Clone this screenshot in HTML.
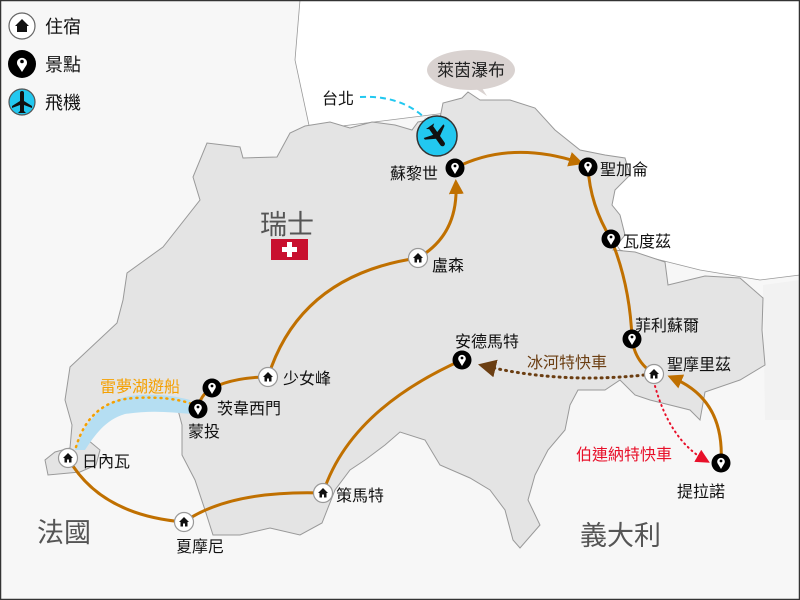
<!DOCTYPE html>
<html><head><meta charset="utf-8"><style>
html,body{margin:0;padding:0;background:#f7f7f7}
svg{display:block}
text{font-family:"Liberation Sans","Noto Sans CJK TC",sans-serif}
</style></head><body>
<svg width="800" height="600" viewBox="0 0 800 600" xmlns="http://www.w3.org/2000/svg">
<defs>
<g id="home"><circle r="9.5" fill="#fff" stroke="#999" stroke-width="1.2"/><path d="M0,-5 L-5,0 L-3.5,0 L-3.5,4.5 L3.5,4.5 L3.5,0 L5,0 Z" fill="#111"/><rect x="-1" y="1.5" width="2" height="3" fill="#fff"/></g>
<g id="pin"><circle r="9.5" fill="#000"/><path d="M0,6 L-3.3,0.5 A3.8,3.8 0 1 1 3.3,0.5 Z" fill="#fff"/><circle cy="-2" r="1.4" fill="#000"/></g>
<marker id="ao" viewBox="0 0 10 10" refX="6" refY="5" markerWidth="5" markerHeight="5" orient="auto"><path d="M0,0 L10,5 L0,10 Z" fill="#c07000"/></marker>
<marker id="ab" viewBox="0 0 10 10" refX="6" refY="5" markerWidth="6" markerHeight="6" orient="auto"><path d="M0,0 L10,5 L0,10 Z" fill="#6b3e12"/></marker>
<marker id="ar" viewBox="0 0 10 10" refX="6" refY="5" markerWidth="7" markerHeight="7" orient="auto"><path d="M0,0 L10,5 L0,10 Z" fill="#e8102a"/></marker>
</defs>
<rect width="800" height="600" fill="#f7f7f7"/>
<path d="M300,0 L800,0 L800,275 L760,280 L700,270 L620,250 L560,160 L470,110 L310,130 L295,60 Z" fill="#fff" stroke="#999" stroke-width="0.8"/>
<path d="M763,285 L800,280 L800,420 L765,420 Z" fill="#f2f2f2"/>
<path d="M305,126 L330,122 L350,128 L372,122 L395,125 L412,130 L418,122 L440,118 L443,103 L462,98 L468,92 L480,100 L510,100 L535,108 L555,130 L580,150 L605,155 L625,158 L630,175 L615,190 L612,205 L620,215 L625,235 L613,250 L635,252 L665,262 L668,285 L705,276 L740,278 L763,298 L762,330 L765,365 L740,380 L705,392 L700,420 L690,410 L670,405 L650,400 L635,395 L620,380 L605,390 L578,390 L570,405 L565,430 L548,450 L535,475 L528,500 L540,525 L520,548 L513,540 L505,510 L490,490 L470,478 L440,465 L425,440 L400,432 L385,445 L365,460 L350,470 L335,490 L322,523 L300,535 L270,528 L240,535 L213,535 L205,510 L195,480 L182,455 L182,425 L178,410 L150,400 L110,410 L88,440 L100,450 L96,465 L80,472 L48,475 L45,460 L55,452 L70,448 L72,425 L65,400 L70,367 L117,323 L123,300 L127,273 L163,247 L200,200 L193,177 L207,143 L240,147 L243,158 L277,157 L290,133 Z" fill="#e4e4e4" stroke="#999" stroke-width="1"/>
<path d="M75,450 C85,420 105,400 130,396 C155,393 175,396 190,400 L192,414 C170,412 150,410 125,414 C105,420 95,435 85,450 Z" fill="#b5def2"/>
<rect x="0.5" y="0.5" width="799" height="599" fill="none" stroke="#333" stroke-width="1.5"/>

<g fill="none" stroke="#c07000" stroke-width="3">
<path d="M68,458 Q100,515 184,522"/>
<path d="M184,522 Q230,490 323,493"/>
<path d="M323,493 Q350,410 462,360"/>
<path d="M198,409 Q200,395 212,388 Q235,377 268,377"/>
<path d="M268,377 Q300,275 418,258"/>
<path d="M418,258 Q458,235 456,185" marker-end="url(#ao)"/>
<path d="M455,168 Q510,140 578,162" marker-end="url(#ao)"/>
<path d="M588,167 Q590,205 611,239 Q630,285 632,339 Q635,362 654,374"/>
<path d="M721,463 Q725,400 673,378" marker-end="url(#ao)"/>
</g>
<path d="M644,375 Q560,384 485,366" fill="none" stroke="#6b3e12" stroke-width="3" stroke-dasharray="1,5" stroke-linecap="round" marker-end="url(#ab)"/>
<path d="M655,386 Q670,440 705,460" fill="none" stroke="#e8102a" stroke-width="2" stroke-dasharray="1,4" stroke-linecap="round" marker-end="url(#ar)"/>
<path d="M76,447 Q90,400 135,398 Q170,396 192,404" fill="none" stroke="#f5a000" stroke-width="2.5" stroke-dasharray="1,5" stroke-linecap="round"/>
<path d="M360,97 Q400,95 425,118" fill="none" stroke="#22c8f0" stroke-width="2" stroke-dasharray="6,4"/>

<path d="M470,85 L487,96 L478,82 Z" fill="#d9d2d0"/>
<ellipse cx="471" cy="70" rx="44" ry="20" fill="#d9d2d0"/>
<text x="471" y="76" font-size="17" text-anchor="middle" fill="#222">萊茵瀑布</text>

<circle cx="437" cy="136" r="20" fill="#22c8f0" stroke="#333" stroke-width="1.5"/>
<g transform="translate(437,136) rotate(145)" fill="#111"><rect x="-2.5" y="-12" width="5" height="24" rx="2.5"/><path d="M-2,-2 L-12,4 L-12,6 L-2,3 Z M2,-2 L12,4 L12,6 L2,3 Z M-1,9 L-5,12 L5,12 L1,9Z"/></g>

<use href="#home" x="68" y="458"/>
<use href="#home" x="184" y="522"/>
<use href="#home" x="323" y="493"/>
<use href="#home" x="268" y="377"/>
<use href="#home" x="418" y="258"/>
<use href="#home" x="654" y="374"/>
<use href="#pin" x="198" y="409"/>
<use href="#pin" x="212" y="388"/>
<use href="#pin" x="462" y="360"/>
<use href="#pin" x="455" y="168"/>
<use href="#pin" x="588" y="167"/>
<use href="#pin" x="611" y="239"/>
<use href="#pin" x="632" y="339"/>
<use href="#pin" x="721" y="463"/>

<g transform="translate(22,26)"><circle r="13" fill="#fff" stroke="#666" stroke-width="1.2"/><path d="M0,-7 L-7,0 L-5,0 L-5,6 L5,6 L5,0 L7,0 Z" fill="#111"/></g>
<g transform="translate(22,64)"><circle r="14" fill="#000"/><path d="M0,8 L-4.5,1 A5,5 0 1 1 4.5,1 Z" fill="#fff"/><circle cy="-2.5" r="1.8" fill="#000"/></g>
<g transform="translate(22,102)"><circle r="13" fill="#22c8f0" stroke="#555" stroke-width="1.2"/><g fill="#111"><rect x="-2" y="-11" width="4" height="22" rx="2"/><path d="M-2,-1 L-10,4 L-10,6 L-2,3Z M2,-1 L10,4 L10,6 L2,3Z M-1,8 L-4,11 L4,11 L1,8Z"/></g></g>
<g font-size="18" fill="#111">
<text x="45" y="33">住宿</text>
<text x="45" y="71">景點</text>
<text x="45" y="109">飛機</text>
</g>

<text x="260" y="234" font-size="27" fill="#555">瑞士</text>
<rect x="271" y="239" width="37" height="21" fill="#c8102e"/>
<rect x="287" y="242" width="5" height="15" fill="#fff"/><rect x="282" y="247" width="15" height="5" fill="#fff"/>
<text x="37" y="542" font-size="27" fill="#555">法國</text>
<text x="580" y="545" font-size="27" fill="#555">義大利</text>

<g font-size="16" fill="#111">
<text x="322" y="104">台北</text>
<text x="390" y="179">蘇黎世</text>
<text x="600" y="175">聖加侖</text>
<text x="623" y="247">瓦度茲</text>
<text x="432" y="271">盧森</text>
<text x="635" y="331">菲利蘇爾</text>
<text x="667" y="370">聖摩里茲</text>
<text x="455" y="347">安德馬特</text>
<text x="677" y="497">提拉諾</text>
<text x="283" y="384">少女峰</text>
<text x="217" y="414">茨韋西門</text>
<text x="188" y="437">蒙投</text>
<text x="82" y="467">日內瓦</text>
<text x="336" y="501">策馬特</text>
<text x="176" y="552">夏摩尼</text>
</g>
<text x="527" y="368" font-size="16" fill="#6b3e12">冰河特快車</text>
<text x="576" y="460" font-size="16" fill="#e8102a">伯連納特快車</text>
<text x="100" y="392" font-size="16" fill="#f5a000">雷夢湖遊船</text>
</svg>
</body></html>
